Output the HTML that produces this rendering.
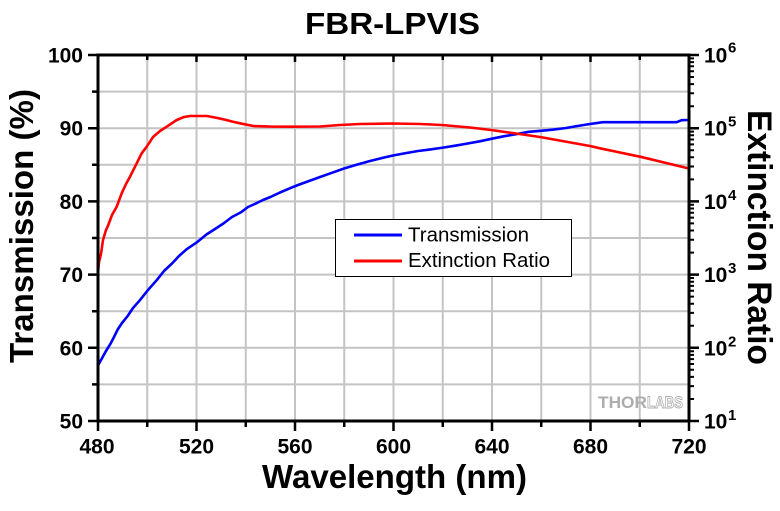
<!DOCTYPE html>
<html>
<head>
<meta charset="utf-8">
<style>
html,body{margin:0;padding:0;background:#fff;}
svg{display:block;}
text{font-family:"Liberation Sans",Arial,sans-serif;}
</style>
</head>
<body>
<svg width="780" height="511" viewBox="0 0 780 511" xmlns="http://www.w3.org/2000/svg">
<rect width="780" height="511" fill="#fff"/>

<!-- gridlines -->
<g stroke="#c4c4c4" stroke-width="2" fill="none">
  <path d="M147.25 55V421M196.5 55V421M245.75 55V421M295 55V421M344.25 55V421M393.5 55V421M442.75 55V421M492 55V421M541.25 55V421M590.5 55V421M639.75 55V421"/>
  <path d="M98 91.6H689M98 128.2H689M98 164.8H689M98 201.4H689M98 238H689M98 274.6H689M98 311.2H689M98 347.8H689M98 384.4H689"/>
</g>

<!-- watermark -->
<text x="598" y="408" font-size="17" font-weight="bold" fill="#acacac" textLength="49" lengthAdjust="spacingAndGlyphs">THOR</text>
<text x="647" y="408" font-size="17" font-weight="bold" fill="#fff" stroke="#acacac" stroke-width="0.9" textLength="36" lengthAdjust="spacingAndGlyphs">LABS</text>

<!-- Transmission (blue) -->
<polyline fill="none" stroke="#0000ff" stroke-width="2.6" stroke-linejoin="round" points="
98,365.4 102.9,356.6 106,351 110.3,344.1 114,337 117.7,329.5 122,323 127.6,316.1 133,308 139.9,300.2 148,290 157.1,279.7 164,271 171.9,263.6 179,256 186.7,249.2 196.5,242.6 206.4,234.5 215,229 223.6,223.4 232,217 240.8,212.4 248,207 255.6,203.6 263,200 270.4,197 280,192.5 290.1,188.2 298,185 307.3,181.6 320,177 331.9,172.8 344,168.5 356.6,164.8 369,161.3 381.2,158.2 393,155.5 405.8,153.1 418,151 430.4,149.4 443,147.6 455.1,145.7 467,143.6 479.7,141.3 492,138.7 504.3,136.2 516,134.2 528.9,131.8 541,130.8 553.6,129.6 566,128 578.2,125.9 590,124 602.8,122.2 640,122.2 676.7,122.2 681.6,120.2 689,120"/>

<!-- Extinction ratio (red) -->
<polyline fill="none" stroke="#ff0000" stroke-width="2.6" stroke-linejoin="round" points="
98,272 99,262 101,254 103,240 106,230 108.3,225 112,215 116.7,206.7 121.7,193.3 126,184 130,176.7 136.7,163.3 141.7,153.3 146.7,146.7 153.3,136.7 160,131 166.7,126.7 176.7,120 184,117 190,116 206.7,116 215,117.5 223.3,119.3 232,121.5 240,123.3 253.3,126 270,126.6 290,126.7 320,126.5 340,125 360,124 393,123.5 420,124 442,125 470,127.5 491,130 516,133.5 540,137 565,141.5 590,146 600,148.3 620,152.5 640,156.7 660,161.5 689,168.5"/>

<!-- axes frame -->
<rect x="98" y="55" width="591" height="366" fill="none" stroke="#000" stroke-width="3"/>

<!-- ticks -->
<g stroke="#000" stroke-width="2.5" fill="none">
  <!-- left -->
  <path d="M88 55H98M88 128.2H98M88 201.4H98M88 274.6H98M88 347.8H98M88 421H98"/>
  <path d="M92 91.6H98M92 164.8H98M92 238H98M92 311.2H98M92 384.4H98"/>
  <!-- bottom -->
  <path d="M98 421V431M196.5 421V431M295 421V431M393.5 421V431M492 421V431M590.5 421V431M689 421V431"/>
  <path d="M147.25 421V427M245.75 421V427M344.25 421V427M442.75 421V427M541.25 421V427M639.75 421V427"/>
  <!-- top inward -->
  <path d="M147.25 55V60M196.5 55V62M245.75 55V60M295 55V62M344.25 55V60M393.5 55V62M442.75 55V60M492 55V62M541.25 55V60M590.5 55V62M639.75 55V60"/>
  <!-- right major -->
  <path d="M689 55H699M689 128.2H699M689 201.4H699M689 274.6H699M689 347.8H699M689 421H699"/>
</g>
<g stroke="#000" stroke-width="2" fill="none">
  <path d="M689 399H694M689 386.1H694M689 376.9H694M689 369.8H694M689 364H694M689 359.1H694M689 354.9H694M689 351.2H694
           M689 325.8H694M689 312.9H694M689 303.7H694M689 296.6H694M689 290.8H694M689 285.9H694M689 281.7H694M689 278H694
           M689 252.6H694M689 239.7H694M689 230.5H694M689 223.4H694M689 217.6H694M689 212.7H694M689 208.5H694M689 204.8H694
           M689 179.4H694M689 166.5H694M689 157.3H694M689 150.2H694M689 144.4H694M689 139.5H694M689 135.3H694M689 131.6H694
           M689 106.2H694M689 93.3H694M689 84.1H694M689 77H694M689 71.2H694M689 66.3H694M689 62.1H694M689 58.4H694"/>
</g>

<!-- left tick labels -->
<g font-size="21" font-weight="bold" fill="#000" text-anchor="end">
  <text x="83" y="62.5">100</text>
  <text x="83" y="135.7">90</text>
  <text x="83" y="208.9">80</text>
  <text x="83" y="282.1">70</text>
  <text x="83" y="355.3">60</text>
  <text x="83" y="428.5">50</text>
</g>

<!-- bottom tick labels -->
<g font-size="21" font-weight="bold" fill="#000" text-anchor="middle">
  <text x="97" y="453.5">480</text>
  <text x="196.5" y="453.5">520</text>
  <text x="295" y="453.5">560</text>
  <text x="393.5" y="453.5">600</text>
  <text x="492" y="453.5">640</text>
  <text x="590.5" y="453.5">680</text>
  <text x="689" y="453.5">720</text>
</g>

<!-- right tick labels -->
<g font-weight="bold" fill="#000">
  <text x="704" y="62.5" font-size="21">10</text><text x="728" y="52.5" font-size="15">6</text>
  <text x="704" y="135.7" font-size="21">10</text><text x="728" y="126.7" font-size="15">5</text>
  <text x="704" y="208.9" font-size="21">10</text><text x="728" y="199.9" font-size="15">4</text>
  <text x="704" y="282.1" font-size="21">10</text><text x="728" y="273.1" font-size="15">3</text>
  <text x="704" y="355.3" font-size="21">10</text><text x="728" y="346.3" font-size="15">2</text>
  <text x="704" y="428.5" font-size="21">10</text><text x="728" y="420" font-size="15">1</text>
</g>

<!-- titles -->
<text x="305" y="34" font-size="31" font-weight="bold" fill="#000" textLength="175" lengthAdjust="spacingAndGlyphs">FBR-LPVIS</text>
<text x="262" y="488" font-size="33" font-weight="bold" fill="#000" textLength="265" lengthAdjust="spacingAndGlyphs">Wavelength (nm)</text>
<text transform="translate(33,363) rotate(-90)" x="0" y="0" font-size="33" font-weight="bold" fill="#000" textLength="274" lengthAdjust="spacingAndGlyphs">Transmission (%)</text>
<text transform="translate(748,110) rotate(90)" x="0" y="0" font-size="34" font-weight="bold" fill="#000" textLength="255" lengthAdjust="spacingAndGlyphs">Extinction Ratio</text>

<!-- legend -->
<rect x="335.5" y="219.5" width="236" height="57" fill="#fff" stroke="#000" stroke-width="1"/>
<line x1="354" y1="235" x2="402" y2="235" stroke="#0000ff" stroke-width="3"/>
<line x1="354" y1="261" x2="402" y2="261" stroke="#ff0000" stroke-width="3"/>
<text x="408" y="241.5" font-size="20" fill="#000" textLength="121" lengthAdjust="spacingAndGlyphs">Transmission</text>
<text x="408" y="267" font-size="20" fill="#000" textLength="142" lengthAdjust="spacingAndGlyphs">Extinction Ratio</text>
</svg>
</body>
</html>
